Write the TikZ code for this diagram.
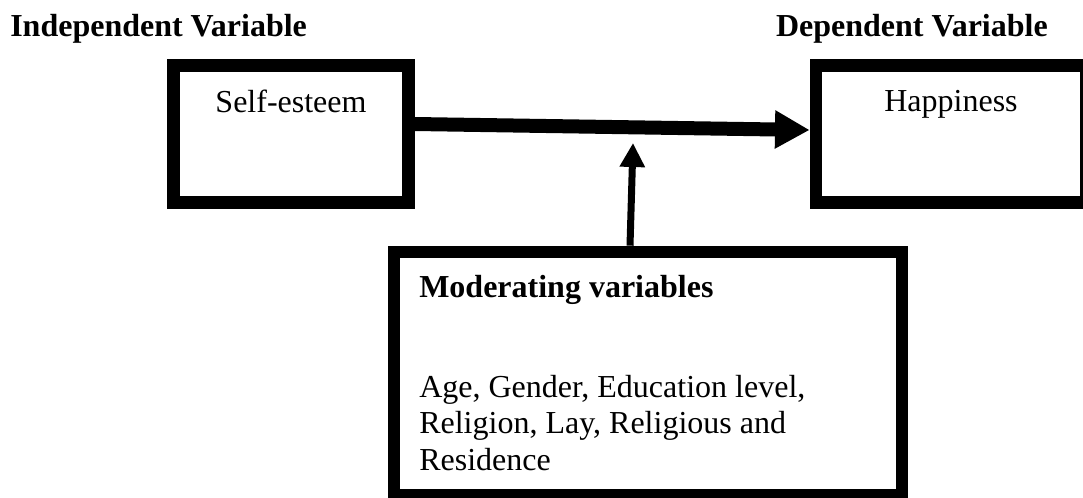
\documentclass[tikz,border=0pt]{standalone}
\usepackage{fontspec}
\setmainfont{Liberation Serif}
\usetikzlibrary{arrows.meta,calc}
\tikzset{
  box/.style={draw=black, line width=9.5pt, rectangle, inner sep=0pt, outer sep=auto},
  txt/.style={inner sep=0pt, font=\fontsize{24pt}{27.6pt}\selectfont},
  btxt/.style={inner sep=0pt, font=\fontsize{24pt}{27.6pt}\selectfont\bfseries},
  harrow/.style={line width=10.5pt, -{Triangle[length=26pt,width=27pt]}},
  varrow/.style={line width=5.25pt, -{Triangle[length=18pt,width=18pt]}}
}
\begin{document}
\begin{tikzpicture}[x=0.75pt,y=-0.75pt]
\useasboundingbox (0,0) rectangle (1083,497);
% headings
\node[btxt, anchor=base west] (hind) at (10,36) {Independent Variable};
\node[btxt, anchor=base east] (hdep) at (1048,36) {Dependent Variable};
% boxes
\node[box, minimum width=176.25pt, minimum height=102.4pt] (L) at (291,134) {};
\node[box, minimum width=202.5pt, minimum height=102.4pt] (R) at (951,134) {};
\node[box, minimum width=381pt, minimum height=182.25pt] (M) at (648,373.5) {};
% texts
\node[txt, anchor=base] (tse) at (291,112) {Self-esteem};
\node[txt, anchor=base] (thap) at (951,111) {Happiness};
\node[btxt, anchor=base west] (tmod) at (419,297) {Moderating variables};
\node[txt, anchor=base west, align=left] (tlist) at (419,470.6) {Age, Gender, Education level,\\Religion, Lay, Religious and\\Residence};
% connectors
\draw[harrow] ($(L.east)+(0,-10)$) -- ($(R.west)+(0,-4)$);
\coordinate (mtip) at (633,143);
\draw[varrow] ($(M.north)+(-18,0)$) -- (mtip);
\end{tikzpicture}
\end{document}
